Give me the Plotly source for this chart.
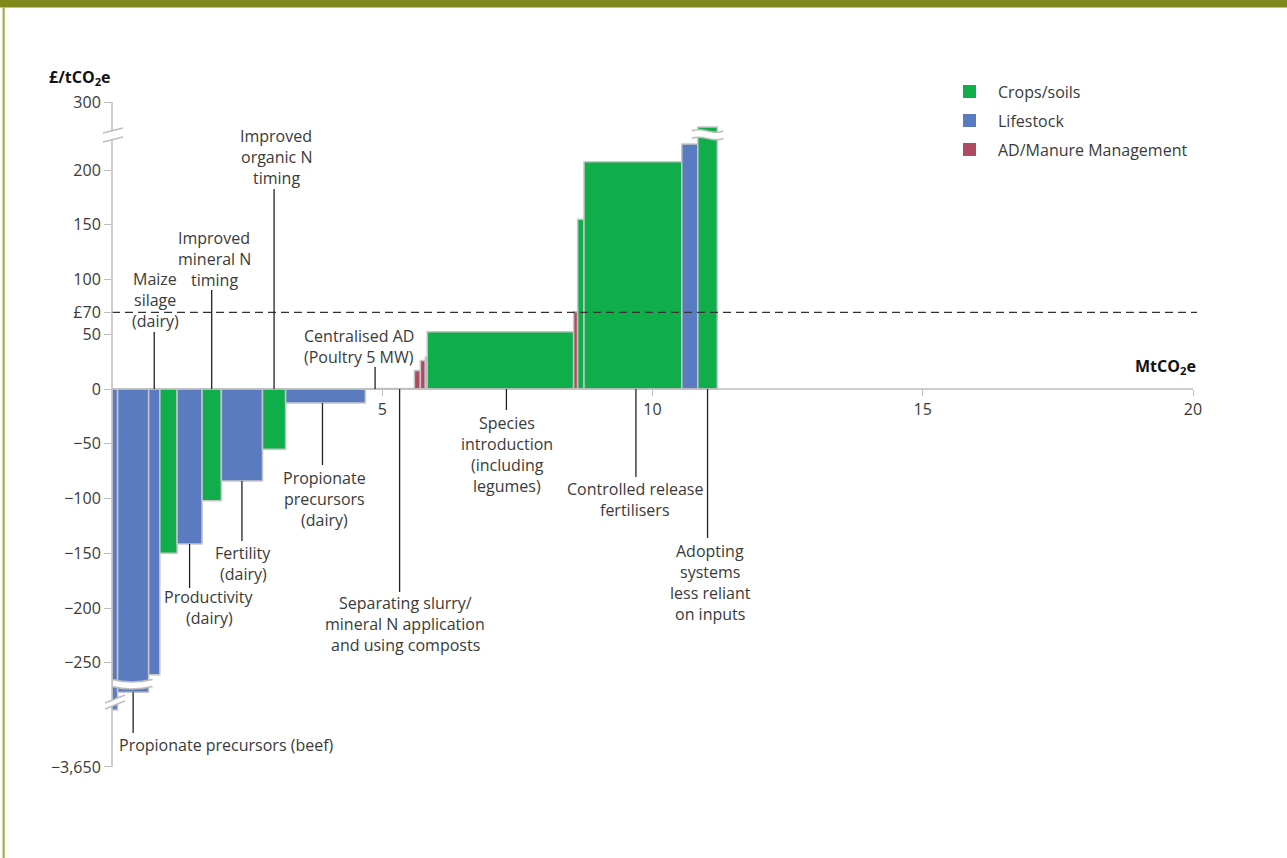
import plotly.graph_objects as go
import numpy as np

# ------------------------------------------------------------------ data
bar_names = [
    "(unlabelled livestock measure)", "Propionate precursors (beef)", "Maize silage (dairy)",
    "(unlabelled crop measure)", "Productivity (dairy)", "Improved mineral N timing",
    "Fertility (dairy)", "Improved organic N timing", "Propionate precursors (dairy)",
    "Centralised AD (Poultry 5 MW)", "Separating slurry/mineral N application and using composts",
    "(AD measure)", "(AD measure)", "(AD measure)", "Species introduction (including legumes)",
    "(AD measure)", "(crop measure)", "Controlled release fertilisers", "(livestock measure)",
    "Adopting systems less reliant on inputs",
]
sectors = ["L", "L", "L", "C", "L", "C", "L", "C", "L", "A",
           "C", "A", "A", "A", "C", "A", "C", "C", "L", "C"]
abatement = [0.104, 0.574, 0.207, 0.320, 0.461, 0.357, 0.762, 0.427, 1.475, 0.361,
             0.546, 0.111, 0.093, 0.033, 2.710, 0.074, 0.118, 1.809, 0.296, 0.361]
cost = [-1450, -770, -261, -150, -141.5, -102, -84, -55, -12.8, 0.4,
        0.4, 17, 26, 29, 52.3, 70.6, 155, 207.5, 223.7, 250]

x_ticks = [5, 10, 15, 20]
y_tick_values = [300, 200, 150, 100, 70, 50, 0, -50, -100, -150, -200, -250, -3650]
y_tick_text = ["300", "200", "150", "100", "£70", "50", "0", "−50", "−100", "−150",
               "−200", "−250", "−3,650"]
threshold = 70

legend_keys = ["C", "L", "A"]
legend_names = ["Crops/soils", "Lifestock", "AD/Manure Management"]
colors = {"C": "#10ad4b", "L": "#5a7bbf", "A": "#b04a63"}

# ------------------------------------------------------------------ broken y scale
UP_BREAK, UP_SLOPE = 230.0, 0.4586
LO_BREAK, LO_SLOPE = -265.0, 0.02369


def to_axis(v):
    if v > UP_BREAK:
        return UP_BREAK + (v - UP_BREAK) * UP_SLOPE
    if v < LO_BREAK:
        return LO_BREAK + (v - LO_BREAK) * LO_SLOPE
    return v


# ------------------------------------------------------------------ geometry
W, H = 1287, 858
L, R, T, B = 112, 1204, 90, 775
PXX = 54.05
Y0PX, PXY = 389.0, 1.095
XMAX = (R - L) / PXX
YTOP = (Y0PX - T) / PXY
YBOT = (Y0PX - B) / PXY


def pxx(px):
    return (px - L) / (R - L)


def pxy(py):
    return (B - py) / (B - T)


def ypx(d):
    return Y0PX - d * PXY


def xpx(x):
    return L + x * PXX


w = np.array(abatement)
left = np.concatenate([[0], np.cumsum(w)[:-1]])
centers = left + w / 2
disp = [to_axis(c) for c in cost]

fig = go.Figure()
fig.add_trace(go.Bar(
    x=centers, y=disp, width=w,
    marker=dict(color=[colors[s] for s in sectors], line=dict(color="#c6c6c6", width=1.5)),
    hoverinfo="skip", showlegend=False,
))

shapes = []
ann = []
FONT = "Open Sans"
FS = 16
TXT = "#3a3a3a"
GRAY = "#bdbdbd"

# border
shapes.append(dict(type="rect", xref="paper", yref="paper", x0=pxx(0), x1=pxx(W),
                   y0=pxy(0), y1=pxy(7.5), fillcolor="#7e8b1c", line=dict(width=0), layer="above"))
shapes.append(dict(type="rect", xref="paper", yref="paper", x0=pxx(2.5), x1=pxx(4.8),
                   y0=pxy(7.5), y1=pxy(H), fillcolor="#a7ad58", line=dict(width=0), layer="above"))

# x axis line
shapes.append(dict(type="line", xref="x", yref="y", x0=0, x1=x_ticks[-1], y0=0, y1=0,
                   line=dict(color=GRAY, width=1.5)))
# threshold dashed line
shapes.append(dict(type="line", xref="paper", yref="y", x0=0, x1=pxx(1197),
                   y0=to_axis(threshold), y1=to_axis(threshold),
                   line=dict(color="#333333", width=1.3, dash="8px,5px")))


def wave_band(x0, x1, ytop, ybot, amp, kind):
    w_ = x1 - x0
    def edge(yb):
        if kind == "dip":
            return [(x0, yb), (x0 + w_ * 0.45, yb + amp), (x1, yb)]
        return [(x0, yb), (x0 + w_ / 3, yb - amp), (x0 + 2 * w_ / 3, yb + amp), (x1, yb)]
    def P(p):
        return f"{pxx(p[0]):.5f},{pxy(p[1]):.5f}"
    te, be = edge(ytop), edge(ybot)
    if kind == "dip":
        top = f"M {P(te[0])} Q {P(te[1])} {P(te[2])}"
        bot = f"M {P(be[0])} Q {P(be[1])} {P(be[2])}"
        band = top + f" L {P(be[2])} Q {P(be[1])} {P(be[0])} Z"
    else:
        top = f"M {P(te[0])} C {P(te[1])} {P(te[2])} {P(te[3])}"
        bot = f"M {P(be[0])} C {P(be[1])} {P(be[2])} {P(be[3])}"
        band = top + f" L {P(be[3])} C {P(be[2])} {P(be[1])} {P(be[0])} Z"
    out = [dict(type="path", xref="paper", yref="paper", path=band, fillcolor="white",
                line=dict(width=0), layer="above")]
    for p in (top, bot):
        out.append(dict(type="path", xref="paper", yref="paper", path=p,
                        line=dict(color=GRAY, width=1.5), layer="above"))
    return out


# break on deep negative bars
shapes += wave_band(xpx(0) + 0.5, xpx(left[2]) + 4, 679.5, 686.5, 5, "dip")
# break on the highest bar
shapes += wave_band(xpx(left[-1]) - 6, xpx(left[-1] + w[-1]) + 6, 131, 138.5, 5, "tilde")

# y axis line, with two breaks
y300 = ypx(to_axis(300))
y3650 = ypx(to_axis(-3650))
for a, b in [(y300, 130.8), (139.8, 700.2), (706.4, y3650)]:
    shapes.append(dict(type="line", xref="paper", yref="paper", x0=0, x1=0,
                       y0=pxy(a), y1=pxy(b), line=dict(color=GRAY, width=1.5), layer="above"))
# white gap through bar 1 at lower axis break
shapes.append(dict(type="path", xref="paper", yref="paper",
                   path=f"M {pxx(105)},{pxy(703)} L {pxx(125)},{pxy(695)} L {pxx(125)},{pxy(701)} "
                        f"L {pxx(105)},{pxy(709)} Z",
                   fillcolor="white", line=dict(width=0), layer="above"))
for (xa, ya, xb, yb) in [(103, 133, 123, 128), (103, 142, 123, 137),
                         (105, 703, 125, 695), (105, 709, 125, 701)]:
    shapes.append(dict(type="line", xref="paper", yref="paper", x0=pxx(xa), y0=pxy(ya),
                       x1=pxx(xb), y1=pxy(yb), line=dict(color=GRAY, width=1.4), layer="above"))

# callout labels: bar index, lines, text centre x px, first line y px, far end px, near end, dx
labels = [
    (2, ["Maize", "silage", "(dairy)"], 155, 279, 332, "zero", 0),
    (5, ["Improved", "mineral N", "timing"], 214, 238, 290, "zero", 0),
    (7, ["Improved", "organic N", "timing"], 276, 136, 189, "zero", 0),
    (8, ["Propionate", "precursors", "(dairy)"], 324, 478, 465, "bar", -3),
    (6, ["Fertility", "(dairy)"], 243, 553, 541, "bar", 0),
    (4, ["Productivity", "(dairy)"], 209, 597, 588, "bar", 0),
    (1, ["Propionate precursors (beef)"], None, 745, 733, "bar", 0),
    (9, ["Centralised AD", "(Poultry 5 MW)"], 359, 336, 367, "zero", 0),
    (10, ["Separating slurry/", "mineral N application", "and using composts"], 405, 603, 592, "zero", 0),
    (14, ["Species", "introduction", "(including", "legumes)"], 507, 423, 410, "zero", 6),
    (17, ["Controlled release", "fertilisers"], 635, 489, 477, "zero", 3),
    (19, ["Adopting", "systems", "less reliant", "on inputs"], 710, 551, 538, "zero", 0),
]
for idx, lines, cx, y1, far, near, dx in labels:
    lx = xpx(centers[idx]) + dx
    near_px = Y0PX if near == "zero" else ypx(disp[idx])
    shapes.append(dict(type="line", xref="paper", yref="paper", x0=pxx(lx), x1=pxx(lx),
                       y0=pxy(near_px), y1=pxy(far), line=dict(color="#222222", width=1.3),
                       layer="above"))
    for k, t in enumerate(lines):
        if cx is None:
            ann.append(dict(x=pxx(117), y=pxy(y1 + 21 * k), xref="paper", yref="paper", text=t,
                            showarrow=False, xanchor="left", yanchor="middle",
                            font=dict(family=FONT, size=FS, color=TXT)))
        else:
            ann.append(dict(x=pxx(cx), y=pxy(y1 + 21 * k), xref="paper", yref="paper", text=t,
                            showarrow=False, xanchor="center", yanchor="middle",
                            font=dict(family=FONT, size=FS, color=TXT)))

# axis titles
ann.append(dict(x=pxx(47), y=pxy(78), xref="paper", yref="paper",
                text="<b>£/tCO<sub>2</sub>e</b>", showarrow=False, xanchor="left", yanchor="middle",
                font=dict(family=FONT, size=FS, color="#111111")))
ann.append(dict(x=pxx(1198), y=pxy(366), xref="paper", yref="paper",
                text="<b>MtCO<sub>2</sub>e</b>", showarrow=False, xanchor="right", yanchor="middle",
                font=dict(family=FONT, size=FS, color="#111111")))

# manual legend
for k, (key, name) in enumerate(zip(legend_keys, legend_names)):
    yc = 91.5 + 29 * k
    shapes.append(dict(type="rect", xref="paper", yref="paper", x0=pxx(963), x1=pxx(976),
                       y0=pxy(yc - 6.5), y1=pxy(yc + 6.5), fillcolor=colors[key],
                       line=dict(width=0), layer="above"))
    ann.append(dict(x=pxx(996), y=pxy(yc), xref="paper", yref="paper", text=name,
                    showarrow=False, xanchor="left", yanchor="middle",
                    font=dict(family=FONT, size=FS, color=TXT)))

fig.update_layout(
    width=W, height=H,
    margin=dict(l=L, r=W - R, t=T, b=H - B, autoexpand=False),
    paper_bgcolor="white", plot_bgcolor="white",
    showlegend=False,
    font=dict(family=FONT, size=FS, color=TXT),
    xaxis=dict(range=[0, XMAX], showgrid=False, zeroline=False, showline=False,
               ticks="outside", ticklen=6, tickwidth=1.3, tickcolor=GRAY,
               tickvals=x_ticks, ticktext=[str(t) for t in x_ticks],
               tickfont=dict(family=FONT, size=FS, color=TXT),
               anchor="free", position=(0 - YBOT) / (YTOP - YBOT)),
    yaxis=dict(range=[YBOT, YTOP], showgrid=False, zeroline=False, showline=False,
               ticks="outside", ticklen=7, tickwidth=1.3, tickcolor=GRAY,
               tickvals=[to_axis(v) for v in y_tick_values], ticktext=y_tick_text,
               tickfont=dict(family=FONT, size=FS, color=TXT)),
    shapes=shapes, annotations=ann,
)

fig.write_html("out.html", config={"displayModeBar": False},
               post_script="document.body.style.margin='0';document.body.style.overflow='hidden';")
